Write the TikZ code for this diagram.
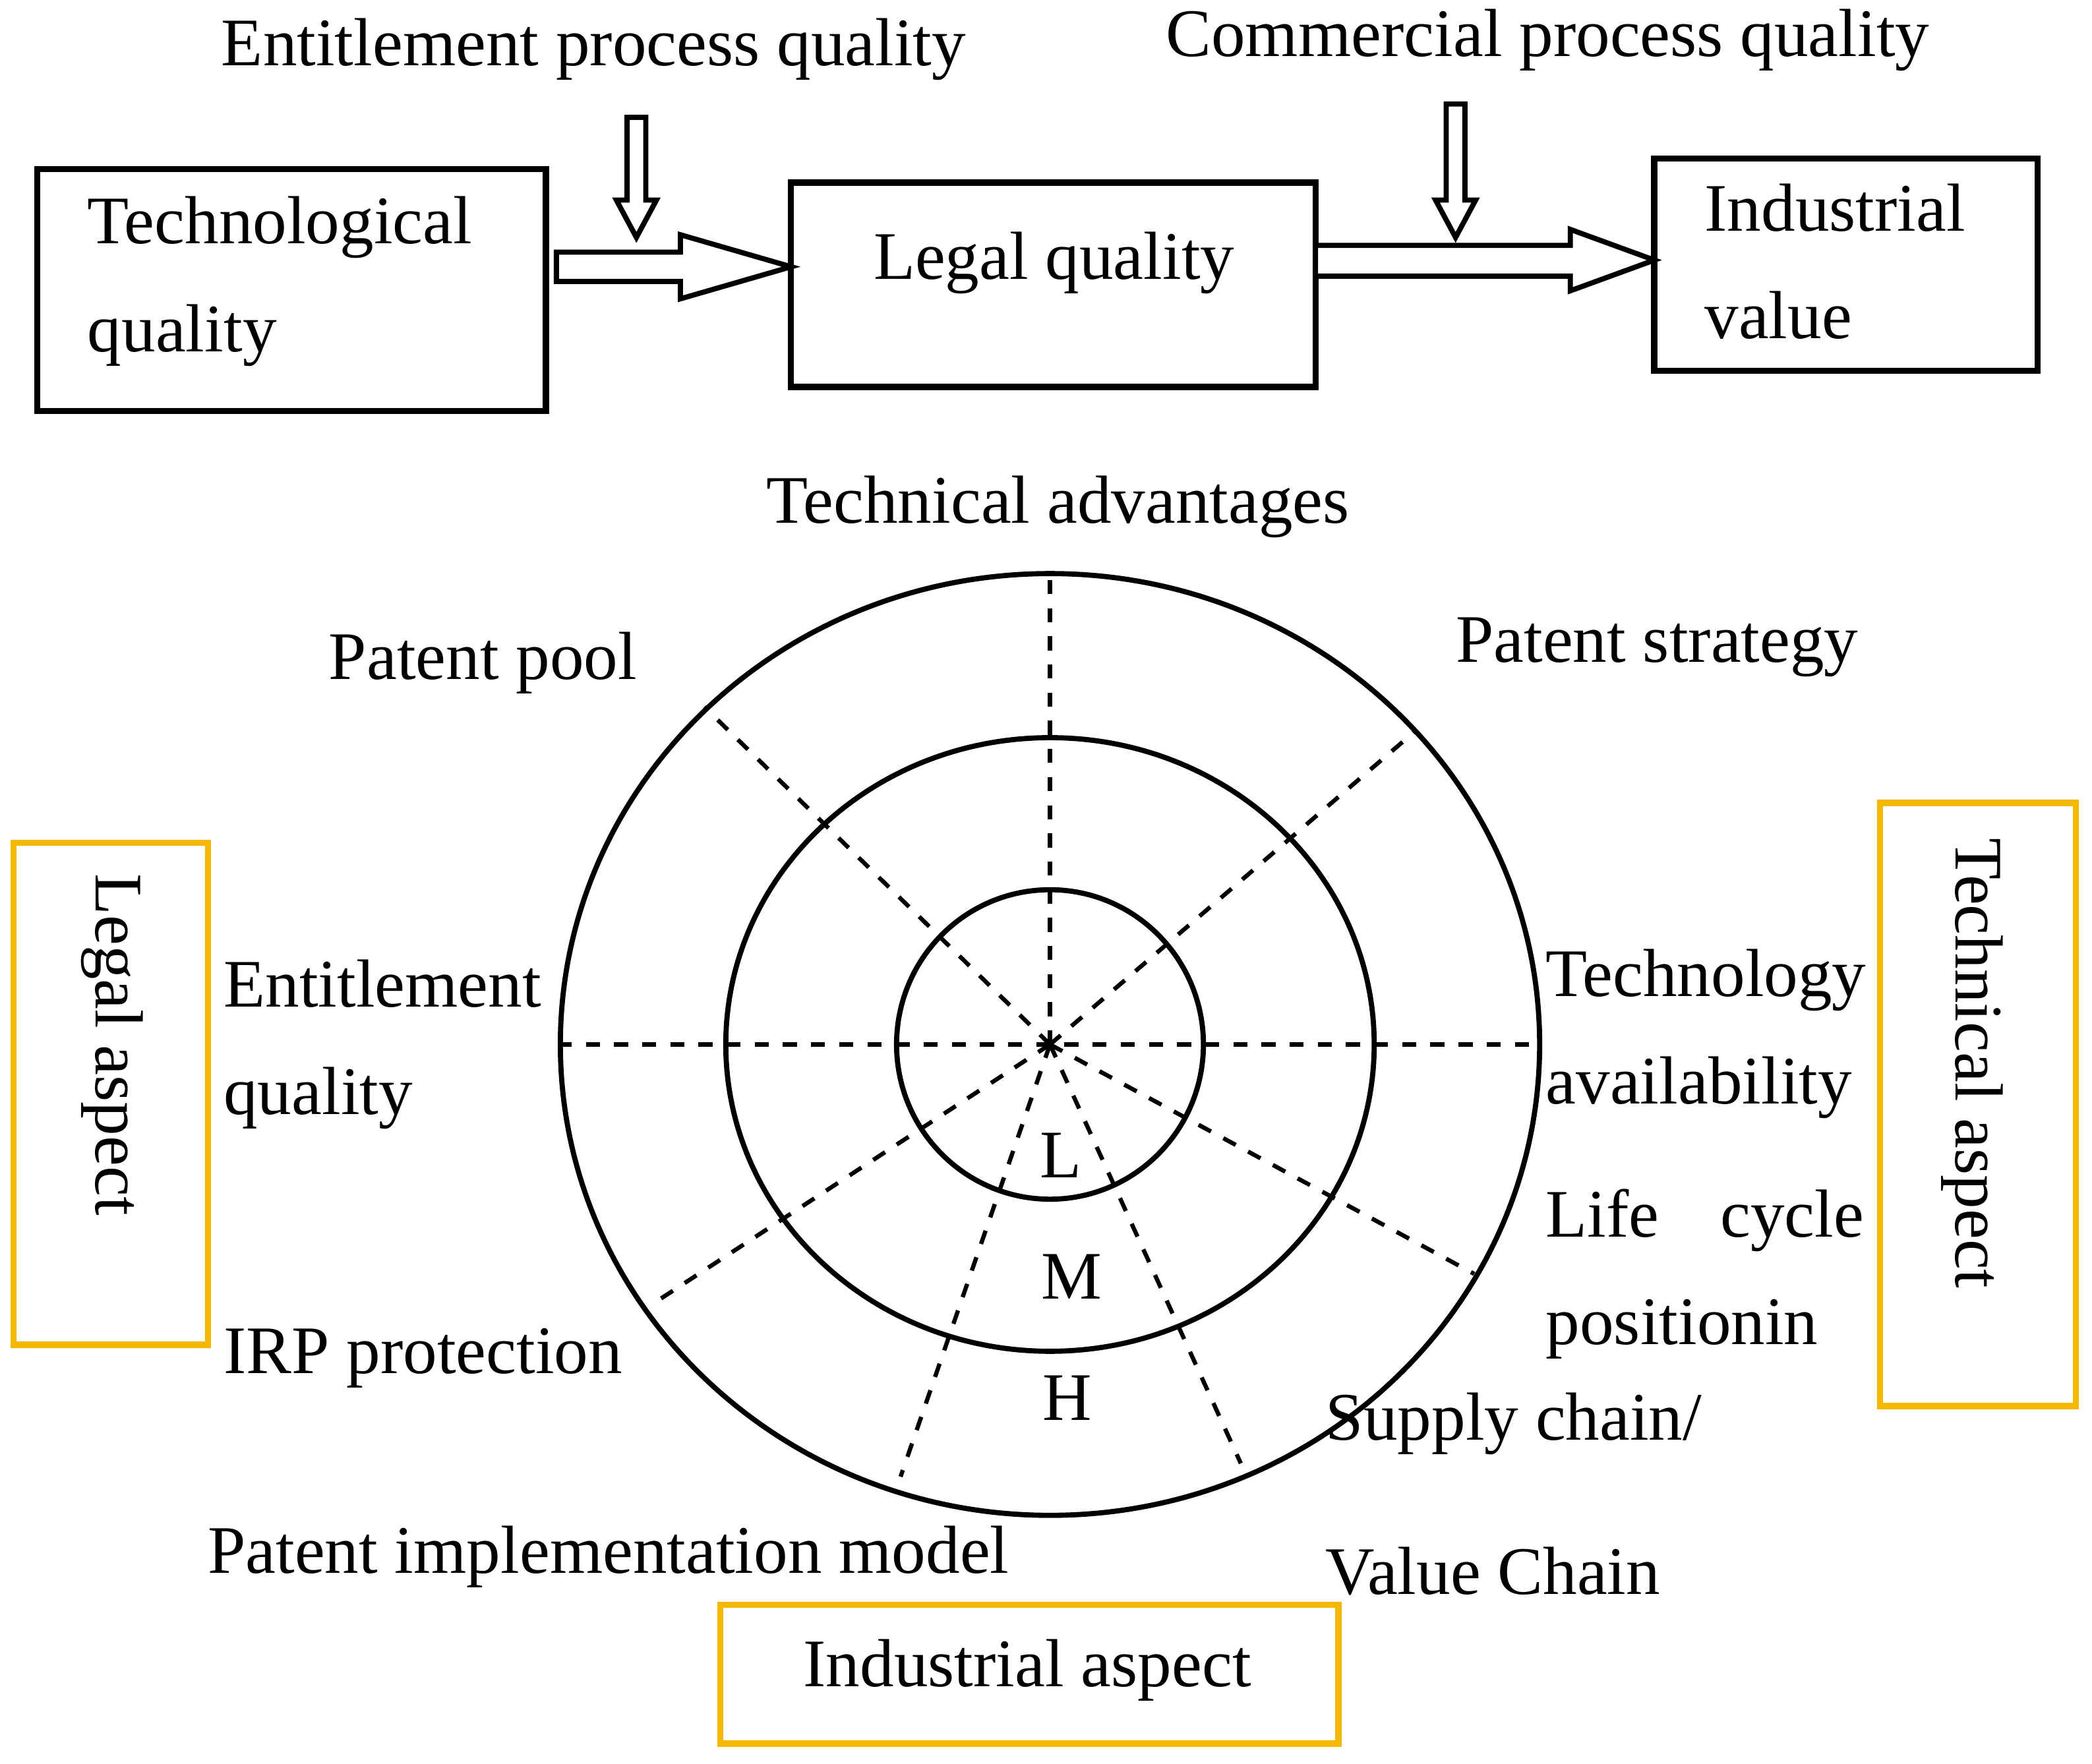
\documentclass[tikz,border=0pt]{standalone}
\usepackage{fontspec}
\setmainfont{Liberation Serif}
\definecolor{ybox}{HTML}{F5B800}
\begin{document}
\begin{tikzpicture}[x=0.01cm,y=-0.01cm,
  box/.style={draw,line width=1.3pt},
  ybox/.style={draw=ybox,line width=1.3pt},
  lab/.style={font=\fontsize{14.5}{17}\selectfont,inner sep=0pt},
  ring/.style={line width=1.1pt},
  dl/.style={dashed,line width=0.9pt},
  harrow/.style={draw,line width=1.1pt,fill=white}]
\useasboundingbox (0,0) rectangle (1568,1322);
% top boxes
\node[box,minimum width=3.81cm,minimum height=1.81cm] (tq) at (218.5,217.5) {};
\node[lab,anchor=west,align=left] at (65,211) {Technological\\[6pt]quality};
\node[box,minimum width=3.93cm,minimum height=1.53cm] (lq) at (789.5,213.5) {};
\node[lab] at (790,197) {Legal quality};
\node[box,minimum width=2.87cm,minimum height=1.59cm] (iv) at (1383.5,198.5) {};
\node[lab,anchor=west,align=left] at (1277,196) {Industrial\\[6pt]value};
% hollow arrows
\draw[harrow] (417,189) -- (510,189) -- (510,176) -- (593,200) -- (510,224) -- (510,211) -- (417,211) -- cycle;
\draw[harrow] (986,184) -- (1177,184) -- (1177,172) -- (1240,195) -- (1177,218) -- (1177,207) -- (986,207) -- cycle;
\draw[harrow] (470,88) -- (484,88) -- (484,150) -- (492,150) -- (477,178) -- (462,150) -- (470,150) -- cycle;
\draw[harrow] (1084,78) -- (1098,78) -- (1098,150) -- (1106,150) -- (1091,178) -- (1076,150) -- (1084,150) -- cycle;
\node[lab] at (445,37) {Entitlement process quality};
\node[lab] at (1160,30) {Commercial process quality};
% circles
\coordinate (c) at (787,783);
\draw[dl] (c) -- (787,426);
\draw[dl] (418,783) -- (1153,783);
\draw[dl] (c) -- (528,530);
\draw[dl] (c) -- (1062,547);
\draw[dl] (c) -- (490,977);
\draw[dl] (c) -- (1105,955);
\draw[dl] (c) -- (675,1107);
\draw[dl] (c) -- (930,1097);
\draw[ring] (c) ellipse [x radius=367,y radius=353];
\draw[ring] (c) ellipse [x radius=243,y radius=230];
\draw[ring] (c) ellipse [x radius=115,y radius=116];
\node[lab] at (795,866) {L};
\node[lab] at (803,957) {M};
\node[lab] at (800,1048) {H};
\node[lab] at (793,380) {Technical advantages};
\node[lab] at (362,497) {Patent pool};
\node[lab] at (1242,485) {Patent strategy};
\node[lab,anchor=west,align=left] at (167,783) {Entitlement\\[6pt]quality};
\node[lab,anchor=west,align=left] at (1158,775) {Technology\\[6pt]availability};
\node[lab,anchor=west,align=left] at (1158,955) {Life\hspace{0.9em}cycle\\[6pt]positionin};
\node[lab,anchor=west] at (167,1018) {IRP protection};
\node[lab,anchor=west,align=left] at (993,1120) {Supply chain/\\[16pt]Value Chain};
\node[lab] at (456,1167) {Patent implementation model};
% yellow boxes
\node[ybox,minimum width=1.46cm,minimum height=3.76cm] (la) at (83,820) {};
\node[lab,rotate=-90] at (84,783) {Legal aspect};
\node[ybox,minimum width=1.47cm,minimum height=4.52cm] (ta) at (1482.5,828) {};
\node[lab,rotate=-90] at (1478,797) {Technical aspect};
\node[ybox,minimum width=4.63cm,minimum height=1.04cm] (ia) at (771.5,1255) {};
\node[lab] at (770,1252) {Industrial aspect};
\end{tikzpicture}
\end{document}
